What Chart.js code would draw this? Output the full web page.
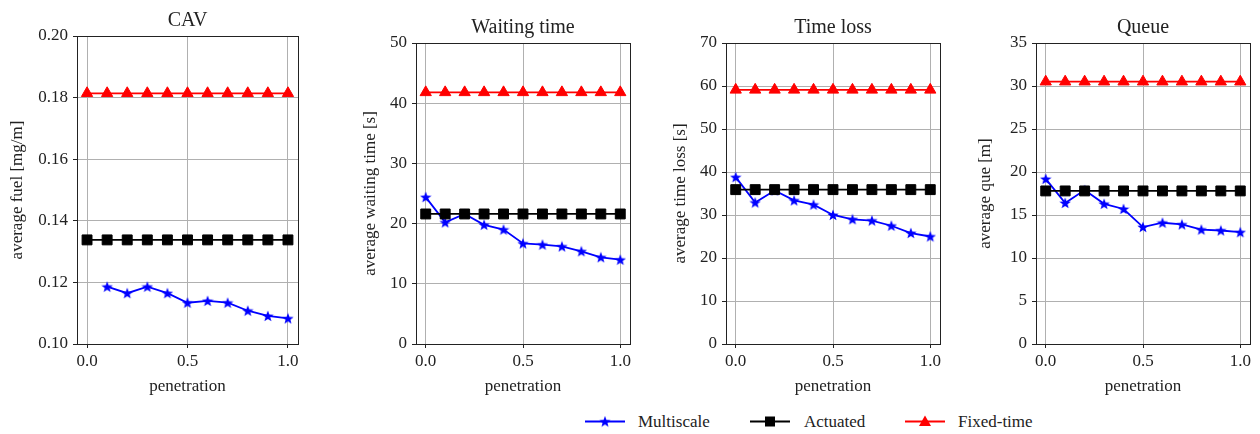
<!DOCTYPE html>
<html>
<head>
<meta charset="utf-8">
<script src="https://cdn.jsdelivr.net/npm/chart.js@4.4.0/dist/chart.umd.min.js"></script>
<style>
  body { margin: 0; background: #fff; width: 1260px; height: 434px; position: relative; overflow: hidden; font-family: "Liberation Serif", "Times New Roman", serif; }
  canvas.panel { position: absolute; top: 0; }
  .leg { position: absolute; top: 413px; font-size: 17px; color: #222; line-height: 17px; }
  .leg canvas { position: absolute; top: 0; }
</style>
</head>
<body>
<canvas id="c0" class="panel"></canvas>
<canvas id="c1" class="panel"></canvas>
<canvas id="c2" class="panel"></canvas>
<canvas id="c3" class="panel"></canvas>
<div id="legend"></div>
<script>
const penetration = [0.0, 0.1, 0.2, 0.3, 0.4, 0.5, 0.6, 0.7, 0.8, 0.9, 1.0];
const penetrationTicks = [0.0, 0.5, 1.0];
const seriesNames = ["Multiscale", "Actuated", "Fixed-time"];

const fuelMultiscale = [null, 0.1186, 0.1165, 0.1186, 0.1165, 0.1134, 0.1140, 0.1134, 0.1108, 0.1091, 0.1083];
const fuelActuated = [0.1338, 0.1338, 0.1338, 0.1338, 0.1338, 0.1338, 0.1338, 0.1338, 0.1338, 0.1338, 0.1338];
const fuelFixed = [0.1814, 0.1814, 0.1814, 0.1814, 0.1814, 0.1814, 0.1814, 0.1814, 0.1814, 0.1814, 0.1814];

const waitMultiscale = [24.4, 20.2, 21.6, 19.8, 19.0, 16.7, 16.5, 16.2, 15.4, 14.4, 14.0];
const waitActuated = [21.6, 21.6, 21.6, 21.6, 21.6, 21.6, 21.6, 21.6, 21.6, 21.6, 21.6];
const waitFixed = [41.8, 41.8, 41.8, 41.8, 41.8, 41.8, 41.8, 41.8, 41.8, 41.8, 41.8];

const lossMultiscale = [38.8, 32.9, 35.7, 33.4, 32.4, 30.0, 29.0, 28.7, 27.5, 25.8, 25.0];
const lossActuated = [35.9, 35.9, 35.9, 35.9, 35.9, 35.9, 35.9, 35.9, 35.9, 35.9, 35.9];
const lossFixed = [59.1, 59.1, 59.1, 59.1, 59.1, 59.1, 59.1, 59.1, 59.1, 59.1, 59.1];

const queueMultiscale = [19.2, 16.4, 17.9, 16.3, 15.7, 13.6, 14.1, 13.9, 13.3, 13.2, 13.0];
const queueActuated = [17.8, 17.8, 17.8, 17.8, 17.8, 17.8, 17.8, 17.8, 17.8, 17.8, 17.8];
const queueFixed = [30.5, 30.5, 30.5, 30.5, 30.5, 30.5, 30.5, 30.5, 30.5, 30.5, 30.5];

const fuelTicks = [0.10, 0.12, 0.14, 0.16, 0.18, 0.20];
const waitTicks = [0, 10, 20, 30, 40, 50];
const lossTicks = [0, 10, 20, 30, 40, 50, 60, 70];
const queueTicks = [0, 5, 10, 15, 20, 25, 30, 35];

const FONT = "'Liberation Serif', 'Times New Roman', serif";
const TEXT = "#222";

// filled 5 point star like matplotlib '*'
function starImage(size, color) {
  const c = document.createElement("canvas");
  c.width = size; c.height = size;
  const g = c.getContext("2d");
  const cx = size / 2, cy = size / 2 + 0.5, R = size / 2, r = R * 0.42;
  g.beginPath();
  for (let i = 0; i < 10; i++) {
    const a = -Math.PI / 2 + i * Math.PI / 5;
    const rr = i % 2 === 0 ? R : r;
    g.lineTo(cx + rr * Math.cos(a), cy + rr * Math.sin(a));
  }
  g.closePath();
  g.fillStyle = color;
  g.fill();
  return c;
}
const star = starImage(12, "#0000ff");

const panels = [
  { id: "c0", title: "CAV", ylabel: "average fuel [mg/m]", ticks: fuelTicks, dec: 2, left: 0, plotLeft: 77, plotRight: 298, plotTop: 36, tpad: 7,
    data: [fuelMultiscale, fuelActuated, fuelFixed] },
  { id: "c1", title: "Waiting time", ylabel: "average waiting time [s]", ticks: waitTicks, dec: 0, left: 350, plotLeft: 416, plotRight: 630, plotTop: 43, tpad: 10,
    data: [waitMultiscale, waitActuated, waitFixed] },
  { id: "c2", title: "Time loss", ylabel: "average time loss [s]", ticks: lossTicks, dec: 0, left: 660, plotLeft: 726, plotRight: 940, plotTop: 43, tpad: 10,
    data: [lossMultiscale, lossActuated, lossFixed] },
  { id: "c3", title: "Queue", ylabel: "average que [m]", ticks: queueTicks, dec: 0, left: 965, plotLeft: 1036, plotRight: 1250, plotTop: 43, tpad: 10,
    data: [queueMultiscale, queueActuated, queueFixed] }
];

const CANVAS_H = 400;
const PLOT_BOTTOM = 344;

const frame = {
  id: "frame",
  afterDatasetsDraw(chart, args, opts) {
    const { ctx, chartArea: a } = chart;
    ctx.save();
    ctx.strokeStyle = "#222";
    ctx.lineWidth = 1;
    ctx.strokeRect(Math.round(a.left) + 0.5, Math.round(a.top) + 0.5, Math.round(a.right - a.left), Math.round(a.bottom - a.top));
    ctx.fillStyle = TEXT;
    ctx.font = "20px " + FONT;
    ctx.textAlign = "center";
    ctx.textBaseline = "middle";
    ctx.fillText(opts.text, (a.left + a.right) / 2, a.top - 15);
    ctx.restore();
  }
};

const styles = [
  { color: "#0000ff", point: star, radius: 6, order: 2 },
  { color: "#000000", point: "rect", radius: 7, order: 1 },
  { color: "#ff0000", point: "triangle", radius: 6.5, order: 0 }
];

panels.forEach((p) => {
  const el = document.getElementById(p.id);
  const width = p.plotRight + 8 - p.left;
  el.width = width; el.height = CANVAS_H;
  el.style.left = p.left + "px";
  const yWidth = p.plotLeft - p.left;

  new Chart(el.getContext("2d"), {
    type: "line",
    data: {
      datasets: p.data.map((vals, i) => ({
        label: seriesNames[i],
        data: penetration.map((x, k) => ({ x: x, y: vals[k] })),
        borderColor: styles[i].color,
        backgroundColor: styles[i].color,
        borderWidth: 1.8,
        pointStyle: styles[i].point,
        pointRadius: styles[i].radius,
        pointBorderWidth: 1,
        pointBorderColor: styles[i].color,
        pointBackgroundColor: styles[i].color,
        order: styles[i].order,
        spanGaps: false,
        tension: 0
      }))
    },
    options: {
      responsive: false,
      animation: false,
      devicePixelRatio: 1,
      layout: { padding: { top: p.plotTop, right: 8, left: 0, bottom: 0 } },
      plugins: { legend: { display: false }, tooltip: { enabled: false }, frame: { text: p.title } },
      scales: {
        x: {
          type: "linear",
          min: -0.05, max: 1.05,
          afterBuildTicks: (s) => { s.ticks = penetrationTicks.map((v) => ({ value: v })); },
          afterFit: (s) => { s.height = CANVAS_H - PLOT_BOTTOM; },
          ticks: { color: TEXT, font: { family: FONT, size: 17 }, padding: 3, maxRotation: 0,
            callback: (v) => Number(v).toFixed(1) },
          grid: { color: "#b0b0b0", lineWidth: 1, tickColor: "#222", tickLength: 4 },
          border: { display: false },
          title: { display: true, text: "penetration", color: TEXT, font: { family: FONT, size: 17 }, padding: { top: 0, bottom: 3 } }
        },
        y: {
          min: p.ticks[0], max: p.ticks[p.ticks.length - 1],
          afterBuildTicks: (s) => { s.ticks = p.ticks.map((v) => ({ value: v })); },
          afterFit: (s) => { s.width = yWidth; },
          ticks: { color: TEXT, font: { family: FONT, size: 17 }, padding: 5,
            callback: (v) => Number(v).toFixed(p.dec) },
          grid: { color: "#b0b0b0", lineWidth: 1, tickColor: "#222", tickLength: 4 },
          border: { display: false },
          title: { display: true, text: p.ylabel, color: TEXT, font: { family: FONT, size: 17 }, padding: { top: p.tpad, bottom: 0 } }
        }
      }
    },
    plugins: [frame]
  });
});

// legend below the panels
const legendItems = [
  { x: 585, textX: 638 },
  { x: 750, textX: 804 },
  { x: 905, textX: 958 }
];
const legend = document.getElementById("legend");
legendItems.forEach((it, i) => {
  const c = document.createElement("canvas");
  c.width = 40; c.height = 17;
  c.style.position = "absolute"; c.style.left = it.x + "px"; c.style.top = "413px";
  const g = c.getContext("2d");
  g.strokeStyle = styles[i].color; g.lineWidth = 1.8;
  g.beginPath(); g.moveTo(0, 8.5); g.lineTo(40, 8.5); g.stroke();
  g.fillStyle = styles[i].color;
  if (i === 0) g.drawImage(star, 20 - 6, 8.5 - 6);
  else if (i === 1) g.fillRect(15, 3.5, 10, 10);
  else { g.beginPath(); g.moveTo(20, 2.5); g.lineTo(26, 13); g.lineTo(14, 13); g.closePath(); g.fill(); }
  document.body.appendChild(c);
  const t = document.createElement("div");
  t.className = "leg";
  t.style.left = it.textX + "px";
  t.textContent = seriesNames[i];
  document.body.appendChild(t);
});
</script>
</body>
</html>
